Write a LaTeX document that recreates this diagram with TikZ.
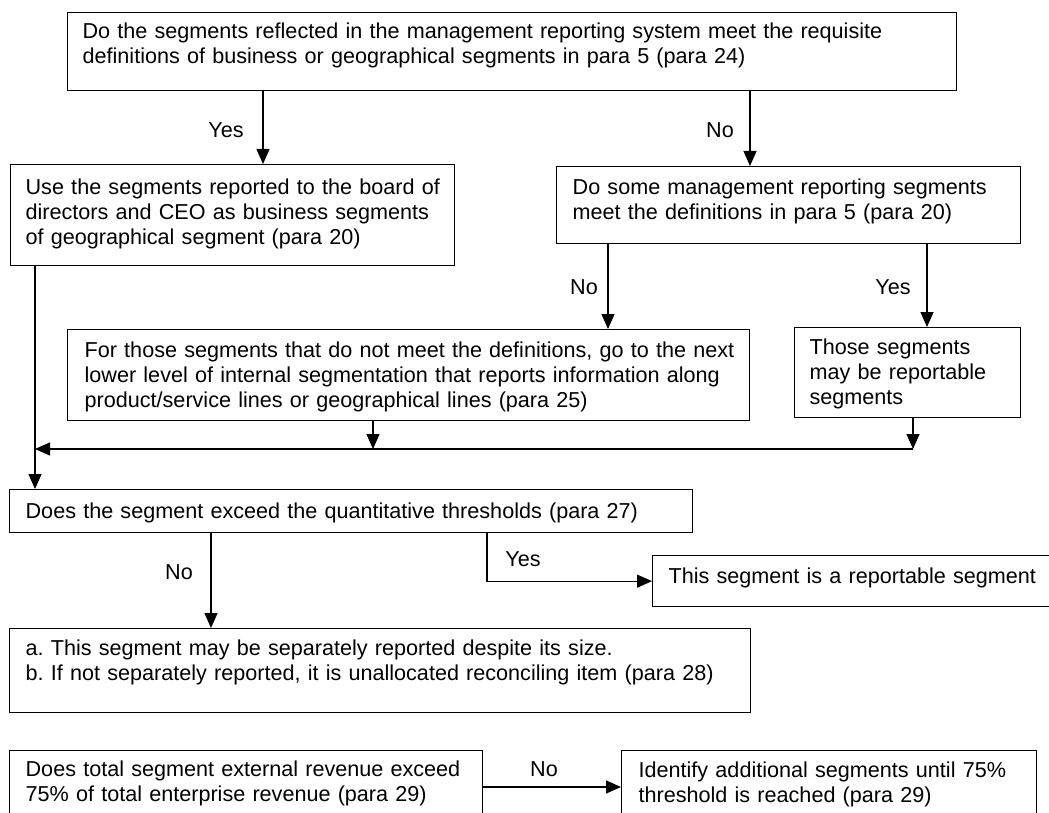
\documentclass[tikz,border=0pt]{standalone}
\usepackage{fontspec}
\setmainfont{Liberation Sans}
\usetikzlibrary{arrows.meta}
\frenchspacing
\begin{document}
\begin{tikzpicture}[x=1pt,y=-1pt,
  txt/.style={font=\fontsize{21.6pt}{25pt}\selectfont},
  box/.style={txt, draw=black, line width=1.3pt, anchor=north west, inner ysep=0pt, align=left},
  lbl/.style={txt, inner sep=0pt, anchor=center},
  arr/.style={line width=1.3pt, -{Triangle[length=15pt,width=13pt]}}]
\path[use as bounding box, clip] (0,0) rectangle (1049,813);

% boxes
\node[box, inner xsep=15pt, text width=859pt, text height=26pt, text depth=52pt] (q1) at (67,12)
  {\mbox{Do the segments reflected in the management reporting system meet the requisite}\\
   \mbox{definitions of business or geographical segments in para 5 (para 24)}};
\node[box, inner xsep=15pt, text width=414pt, text height=30pt, text depth=71pt] (use) at (10,164)
  {\mbox{Use the segments reported to the board of}\\
   \mbox{directors and CEO as business segments}\\
   \mbox{of geographical segment (para 20)}};
\node[box, inner xsep=16pt, text width=432pt, text height=28pt, text depth=49pt] (some) at (556,166)
  {\mbox{Do some management reporting segments}\\
   \mbox{meet the definitions in para 5 (para 20)}};
\node[box, inner xsep=17pt, text width=648pt, text height=28pt, text depth=63pt] (lower) at (67,329)
  {\mbox{For those segments that do not meet the definitions, go to the next}\\
   \mbox{lower level of internal segmentation that reports information along}\\
   \mbox{product/service lines or geographical lines (para 25)}};
\node[box, inner xsep=15pt, text width=196pt, text height=27pt, text depth=63pt] (may) at (794,327)
  {\mbox{Those segments}\\
   \mbox{may be reportable}\\
   \mbox{segments}};
\node[box, inner xsep=16pt, text width=651pt, text height=29pt, text depth=14pt] (exceed) at (9,489)
  {\mbox{Does the segment exceed the quantitative thresholds (para 27)}};
\node[box, inner xsep=16pt, text width=376pt, text height=28pt, text depth=23pt] (rep) at (652,555)
  {\mbox{This segment is a reportable segment}};
\node[box, inner xsep=16pt, text width=709pt, text height=27pt, text depth=57pt] (sep) at (9,628)
  {\mbox{a. This segment may be separately reported despite its size.}\\
   \mbox{b. If not separately reported, it is unallocated reconciling item (para 28)}};
\node[box, inner xsep=16pt, text width=441pt, text height=26pt, text depth=50pt] (tot) at (9,750)
  {\mbox{Does total segment external revenue exceed}\\
   \mbox{75\% of total enterprise revenue (para 29)}};
\node[box, inner xsep=17pt, text width=381pt, text height=27pt, text depth=50pt] (add) at (621,750)
  {\mbox{Identify additional segments until 75\%}\\
   \mbox{threshold is reached (para 29)}};

% labels
\node[lbl] (l1) at (226,130) {Yes};
\node[lbl] (l2) at (720,130) {No};
\node[lbl] (l3) at (584,287) {No};
\node[lbl] (l4) at (893,287) {Yes};
\node[lbl] (l5) at (179,572) {No};
\node[lbl] (l6) at (523,559) {Yes};
\node[lbl] (l7) at (544,769) {No};

% routing coordinates
\coordinate (xa) at (263,0);
\coordinate (xb) at (750,0);
\coordinate (xc) at (608,0);
\coordinate (xd) at (927,0);
\coordinate (xe) at (373,0);
\coordinate (xh) at (211,0);
\coordinate (xi) at (487,0);
\coordinate (jr) at (913,449);
\coordinate (jl) at (35,449);
\coordinate (yt) at (0,787);

% connectors
\draw[arr] (q1.south -| xa) -- (use.north -| xa);
\draw[arr] (q1.south -| xb) -- (some.north -| xb);
\draw[arr] (some.south -| xc) -- (lower.north -| xc);
\draw[arr] (some.south -| xd) -- (may.north -| xd);
\draw[arr] (lower.south -| xe) -- (xe |- jl);
\draw[arr] (may.south -| jr) -- (jr);
\draw[arr] (jr) -- (jl);
\draw[arr] (use.south -| jl) -- (exceed.north -| jl);
\draw[arr] (exceed.south -| xh) -- (sep.north -| xh);
\draw[arr] (exceed.south -| xi) |- (rep.west);
\draw[arr] (tot.east |- yt) -- (add.west |- yt);
\end{tikzpicture}
\end{document}
